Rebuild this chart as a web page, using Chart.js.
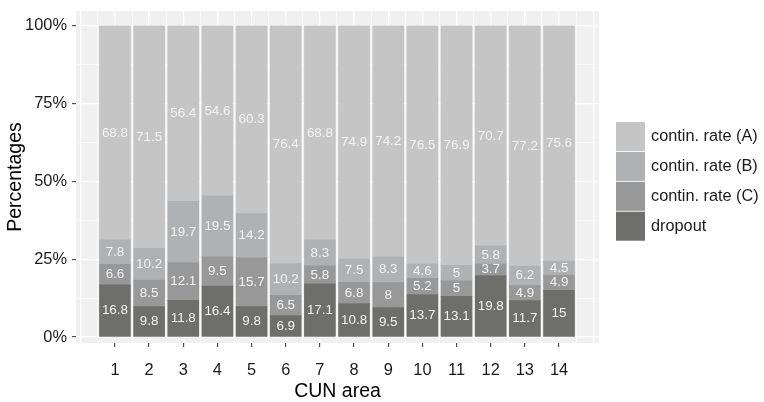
<!DOCTYPE html>
<html>
<head>
<meta charset="utf-8">
<script src="https://cdn.jsdelivr.net/npm/chart.js@4.4.1/dist/chart.umd.min.js"></script>
<style>
  html, body { margin: 0; padding: 0; background: #fff; }
  #wrap { width: 764px; height: 402px; }
</style>
</head>
<body>
<div id="wrap"><canvas id="chart"></canvas></div>
<script>
// Datos
const areas = [1, 2, 3, 4, 5, 6, 7, 8, 9, 10, 11, 12, 13, 14];
const dropout = [16.8, 9.8, 11.8, 16.4, 9.8, 6.9, 17.1, 10.8, 9.5, 13.7, 13.1, 19.8, 11.7, 15];
const rateC = [6.6, 8.5, 12.1, 9.5, 15.7, 6.5, 5.8, 6.8, 8, 5.2, 5, 3.7, 4.9, 4.9];
const rateB = [7.8, 10.2, 19.7, 19.5, 14.2, 10.2, 8.3, 7.5, 8.3, 4.6, 5, 5.8, 6.2, 4.5];
const rateA = [68.8, 71.5, 56.4, 54.6, 60.3, 76.4, 68.8, 74.9, 74.2, 76.5, 76.9, 70.7, 77.2, 75.6];
const yLabels = [0, 25, 50, 75, 100];
const yGrid = [0, 12.5, 25, 37.5, 50, 62.5, 75, 87.5, 100];
const xGrid = [0, 0.5, 1, 1.5, 2, 2.5, 3, 3.5, 4, 4.5, 5, 5.5, 6, 6.5, 7, 7.5,
               8, 8.5, 9, 9.5, 10, 10.5, 11, 11.5, 12, 12.5, 13, 13.5, 14, 14.5, 15];

const toPoints = (vals) => areas.map((a, i) => ({ x: a, y: vals[i] }));

const series = [
    { label: 'dropout', data: dropout, color: '#6e6e6c' },
    { label: 'contin. rate (C)', data: rateC, color: '#979897' },
    { label: 'contin. rate (B)', data: rateB, color: '#b0b1b2' },
    { label: 'contin. rate (A)', data: rateA, color: '#c4c5c4' }
];

const tickVal = (c) => (c.tick ? c.tick.value : NaN);

// Fondo del panel
const panelBg = {
    id: 'panelBg',
    beforeDraw(chart) {
        const { ctx, chartArea: a } = chart;
        ctx.save();
        ctx.fillStyle = '#eff0ef';
        ctx.fillRect(a.left, a.top, a.right - a.left, a.bottom - a.top);
        ctx.restore();
    }
};

// Etiquetas dentro de cada segmento
const segLabels = {
    id: 'segLabels',
    afterDatasetsDraw(chart) {
        const ctx = chart.ctx;
        ctx.save();
        ctx.font = '13.4px "Liberation Sans", Arial, sans-serif';
        ctx.fillStyle = '#f2f2f2';
        ctx.textAlign = 'center';
        ctx.textBaseline = 'middle';
        chart.data.datasets.forEach((ds, di) => {
            chart.getDatasetMeta(di).data.forEach((el, i) => {
                ctx.fillText(String(ds.data[i].y), el.x, (el.y + el.base) / 2);
            });
        });
        ctx.restore();
    }
};

// Leyenda a la derecha
const sideLegend = {
    id: 'sideLegend',
    afterDraw(chart) {
        const ctx = chart.ctx;
        const items = chart.data.datasets.slice().reverse();
        ctx.save();
        ctx.font = '16.3px "Liberation Sans", Arial, sans-serif';
        ctx.textBaseline = 'middle';
        ctx.textAlign = 'left';
        items.forEach((ds, i) => {
            const y = 122 + i * 29.9;
            ctx.fillStyle = ds.backgroundColor;
            ctx.fillRect(616, y, 29, 29);
            ctx.fillStyle = '#1a1a1a';
            ctx.fillText(ds.label, 651, y + 14.5);
        });
        ctx.restore();
    }
};

const tickFont = { family: '"Liberation Sans", Arial, sans-serif', size: 16.4 };
const titleFont = { family: '"Liberation Sans", Arial, sans-serif', size: 19.5 };

new Chart(document.getElementById('chart'), {
    type: 'bar',
    data: {
        datasets: series.map(s => ({
            label: s.label,
            data: toPoints(s.data),
            backgroundColor: s.color,
            borderWidth: 0,
            barThickness: 31
        }))
    },
    options: {
        responsive: true,
        maintainAspectRatio: false,
        devicePixelRatio: 1,
        animation: false,
        layout: { padding: { left: 0, right: 165, top: 11, bottom: 0 } },
        plugins: {
            legend: { display: false },
            tooltip: { enabled: false }
        },
        scales: {
            x: {
                type: 'linear',
                stacked: true,
                offset: false,
                min: -0.14,
                max: 15.17,
                afterBuildTicks: (scale) => { scale.ticks = xGrid.map(v => ({ value: v })); },
                afterFit: (scale) => {
                    scale.height = 59;
                    scale.paddingLeft = 0;
                    scale.paddingRight = 0;
                },
                border: { display: false },
                grid: {
                    offset: false,
                    color: '#ffffff',
                    lineWidth: (c) => Number.isInteger(tickVal(c)) ? 1.3 : 0.6,
                    tickColor: (c) => areas.includes(tickVal(c)) ? '#333333' : 'rgba(0,0,0,0)',
                    tickWidth: 1,
                    tickLength: 4
                },
                ticks: {
                    autoSkip: false,
                    maxRotation: 0,
                    padding: 14,
                    color: '#1a1a1a',
                    font: tickFont,
                    callback: (v) => areas.includes(v) ? String(v) : ''
                },
                title: {
                    display: true,
                    text: 'CUN area',
                    color: '#000000',
                    font: titleFont,
                    padding: { top: 0, bottom: -1 }
                }
            },
            y: {
                stacked: true,
                min: -1.9,
                max: 104.8,
                afterBuildTicks: (scale) => { scale.ticks = yGrid.map(v => ({ value: v })); },
                afterFit: (scale) => {
                    scale.width = 76;
                    scale.paddingTop = 0;
                    scale.paddingBottom = 0;
                },
                border: { display: false },
                grid: {
                    color: '#ffffff',
                    lineWidth: (c) => yLabels.includes(tickVal(c)) ? 1.3 : 0.6,
                    tickColor: (c) => yLabels.includes(tickVal(c)) ? '#333333' : 'rgba(0,0,0,0)',
                    tickWidth: 1,
                    tickLength: 4
                },
                ticks: {
                    padding: 5,
                    color: '#1a1a1a',
                    font: tickFont,
                    callback: (v) => yLabels.includes(v) ? v + '%' : ''
                },
                title: {
                    display: true,
                    text: 'Percentages',
                    color: '#000000',
                    font: titleFont,
                    padding: { top: 4, bottom: 0 }
                }
            }
        }
    },
    plugins: [panelBg, segLabels, sideLegend]
});
</script>
</body>
</html>
